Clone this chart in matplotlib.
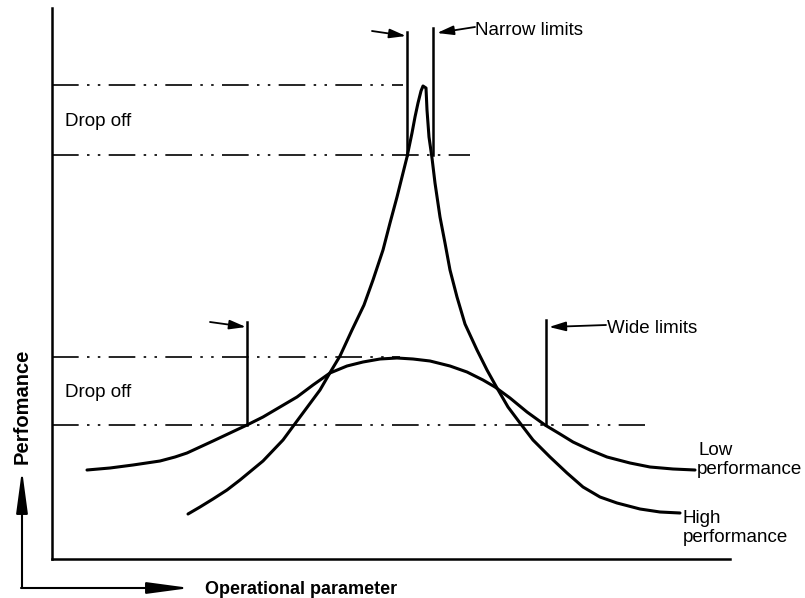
import matplotlib
matplotlib.use("Agg")
import matplotlib.pyplot as plt

plt.rcParams['font.family'] = ['Liberation Sans', 'DejaVu Sans']

# curve points (x = operational parameter, y = depth from top)
high_x = [188, 200, 213, 227, 240, 263, 283, 297, 320, 331, 340, 352, 364, 373, 383, 390, 397, 402,
          407, 412, 415, 418, 421, 423, 426, 427, 429, 432, 435, 440, 445, 450, 457, 465,
          477, 487, 497, 508, 520, 533, 550, 567, 583, 600, 617, 640, 660, 680]
high_y = [514, 507, 499, 490, 480, 461, 440, 421, 390, 371, 356, 330, 305, 280, 250, 223, 197, 177,
          157, 133, 117, 103, 91, 86, 88, 110, 137, 158, 183, 217, 243, 270, 297, 324,
          350, 370, 388, 407, 423, 440, 457, 473, 487, 497, 503, 509, 512, 513]

low_x = [87, 110, 133, 160, 175, 187, 200, 213, 230, 247, 263, 280, 297, 313, 330, 347, 363, 380, 397,
         413, 430, 450, 467, 483, 495, 510, 527, 545, 560, 573, 590, 607, 630, 650, 673, 695]
low_y = [470, 468, 465, 461, 457, 453, 447, 441, 433, 425, 417, 407, 397, 385, 373, 366, 362, 359, 358,
         359, 361, 366, 372, 380, 387, 398, 412, 425, 434, 442, 450, 457, 463, 467, 469, 470]

# drop-off levels and how far the dash-dot lines run
drop_levels = [85, 155, 357, 425]
drop_ends = [403, 470, 400, 645]

# limit markers: x, top, bottom
limit_x = [407, 433, 247, 546]
limit_top = [32, 28, 322, 320]
limit_bottom = [155, 155, 425, 425]

fig = plt.figure(figsize=(8.05, 5.98), dpi=100)
ax = fig.add_axes([52 / 805, (598 - 559) / 598, (730 - 52) / 805, (559 - 8) / 598])
ax.set_xlim(52, 730)
ax.set_ylim(559, 8)
for s in ['top', 'right']:
    ax.spines[s].set_visible(False)
for s in ['left', 'bottom']:
    ax.spines[s].set_linewidth(1.8)
ax.set_xticks([])
ax.set_yticks([])

dashdot = (0, (16, 5, 1.5, 5, 1.5, 5))
for lvl, end in zip(drop_levels, drop_ends):
    ax.plot([52, end], [lvl, lvl], color='black', lw=1.2, linestyle=dashdot)

for x, t, b in zip(limit_x, limit_top, limit_bottom):
    ax.plot([x, x], [t, b], color='black', lw=1.8)

ax.plot(high_x, high_y, color='black', lw=2.2, solid_joinstyle='round', solid_capstyle='round')
ax.plot(low_x, low_y, color='black', lw=2.2, solid_joinstyle='round', solid_capstyle='round')

arrow = dict(arrowstyle='-|>,head_length=1.0,head_width=0.28', color='black', lw=1.3,
             shrinkA=0, shrinkB=0, mutation_scale=10)

fs = 13.5
# narrow limits
ax.annotate('', xy=(406, 36), xytext=(372, 31), arrowprops=arrow, annotation_clip=False)
ax.annotate('', xy=(437, 33), xytext=(475, 27), arrowprops=arrow, annotation_clip=False)
ax.text(475, 35, 'Narrow limits', fontsize=fs, va='baseline', ha='left')

# wide limits
ax.annotate('', xy=(549, 327), xytext=(606, 325), arrowprops=arrow, annotation_clip=False)
ax.annotate('', xy=(246, 327), xytext=(210, 322), arrowprops=arrow, annotation_clip=False)
ax.text(607, 333, 'Wide limits', fontsize=fs, va='baseline', ha='left')

ax.text(65, 126, 'Drop off', fontsize=fs, va='baseline', ha='left')
ax.text(65, 397, 'Drop off', fontsize=fs, va='baseline', ha='left')

ax.text(699, 455, 'Low', fontsize=fs, va='baseline', ha='left', clip_on=False)
ax.text(697, 474, 'performance', fontsize=fs, va='baseline', ha='left', clip_on=False)
ax.text(683, 523, 'High', fontsize=fs, va='baseline', ha='left', clip_on=False)
ax.text(683, 542, 'performance', fontsize=fs, va='baseline', ha='left', clip_on=False)

# outer axis arrows
big = dict(arrowstyle='-|>,head_length=2.6,head_width=0.35', color='black', lw=1.5,
           shrinkA=0, shrinkB=0, mutation_scale=10)
ax.annotate('', xy=(22, 470), xytext=(22, 588), arrowprops=big, annotation_clip=False)
ax.annotate('', xy=(190, 588), xytext=(21, 588), arrowprops=big, annotation_clip=False)
ax.text(205, 594, 'Operational parameter', fontsize=13, fontweight='bold',
        va='baseline', ha='left', clip_on=False)
ax.text(22, 406, 'Perfomance', fontsize=14.5, fontweight='bold', rotation=90,
        va='center', ha='center', clip_on=False)

fig.savefig('out.png', dpi=100)
